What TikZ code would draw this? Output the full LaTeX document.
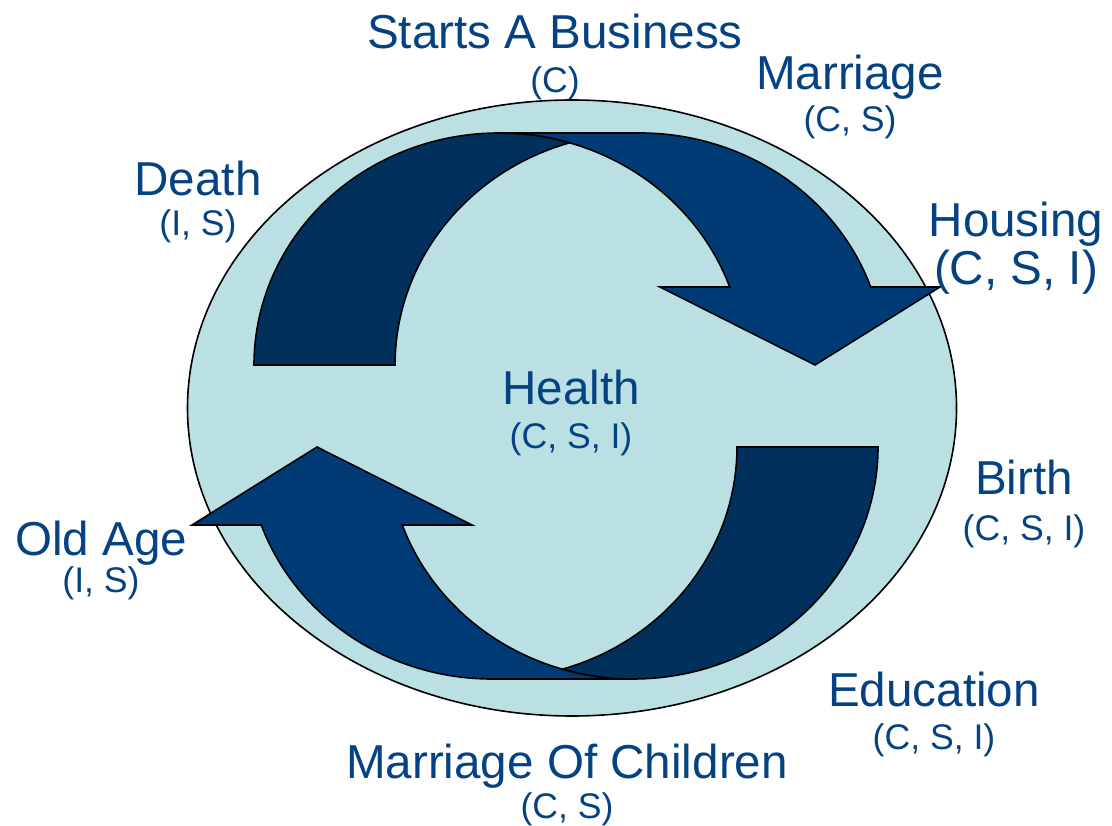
\documentclass[tikz,border=0pt]{standalone}
\usepackage{fontspec}
\setmainfont{Liberation Sans}

\definecolor{textblue}{RGB}{4,66,130}
\definecolor{bandlight}{RGB}{0,59,118}
\definecolor{banddark}{RGB}{1,48,93}
\definecolor{ringfill}{RGB}{187,224,227}

\tikzstyle{backdrop} = [draw=black,line width=0.8pt,fill=ringfill]
\tikzstyle{bandfront} = [draw=black,line width=0.8pt,fill=bandlight]
\tikzstyle{bandback} = [draw=black,line width=0.8pt,fill=banddark]
\tikzstyle{eventtext} = [anchor=base,inner sep=0pt,text=textblue,font=\fontsize{23.8}{28}\selectfont]
\tikzstyle{codetext} = [anchor=base,inner sep=0pt,text=textblue,font=\fontsize{17.8}{21}\selectfont]

\begin{document}
\begin{tikzpicture}[x=0.5pt,y=0.5pt]
    \useasboundingbox (0,0) rectangle (1112,825);
    %% background ring
    \filldraw[backdrop] (572,417) ellipse [x radius=384.5, y radius=308];
    %% curved arrows, the second one turned half way round
    \foreach \turn in {0,180}
    {
      \begin{scope}[rotate around={\turn:(566,419)}]
        % front of the band with its head
        \filldraw[bandfront] (815,460) -- (660,538) -- (729.7,538)
          arc[start angle=19.65, end angle=90, x radius=245, y radius=232]
          -- (640,692)
          arc[start angle=90, end angle=19.65, x radius=245, y radius=232]
          -- (940,538) -- cycle;
        % back of the band
        \filldraw[bandback] (254,460)
          arc[start angle=180, end angle=73.27, x radius=245, y radius=232]
          arc[start angle=106.73, end angle=180, x radius=245, y radius=232]
          -- cycle;
      \end{scope}
    }
    %% life events and their codes
    \foreach \nodename/\x/\y/\event/\cy/\codes/\codestyle in {
      start/555/776/{Starts A Business}/732/{(C)}/codetext,
      marriage/850/735/{Marriage}/693/{(C, S)}/codetext,
      death/198/629/{Death}/589/{(I, S)}/codetext,
      housing/1016/588/{Housing}/540/{(C, S, I)}/eventtext,
      health/571/420/{Health}/376/{(C, S, I)}/codetext,
      birth/1024/330/{Birth}/285/{(C, S, I)}/codetext,
      oldage/101/270/{Old Age}/233/{(I, S)}/codetext,
      education/934/119/{Education}/76/{(C, S, I)}/codetext,
      children/567/47/{Marriage Of Children}/7/{(C, S)}/codetext}
    {
      \node[eventtext] (\nodename) at (\x,\y) {\event};
      \node[\codestyle] (\nodename-codes) at (\x,\cy) {\codes};
    }
\end{tikzpicture}
\end{document}
